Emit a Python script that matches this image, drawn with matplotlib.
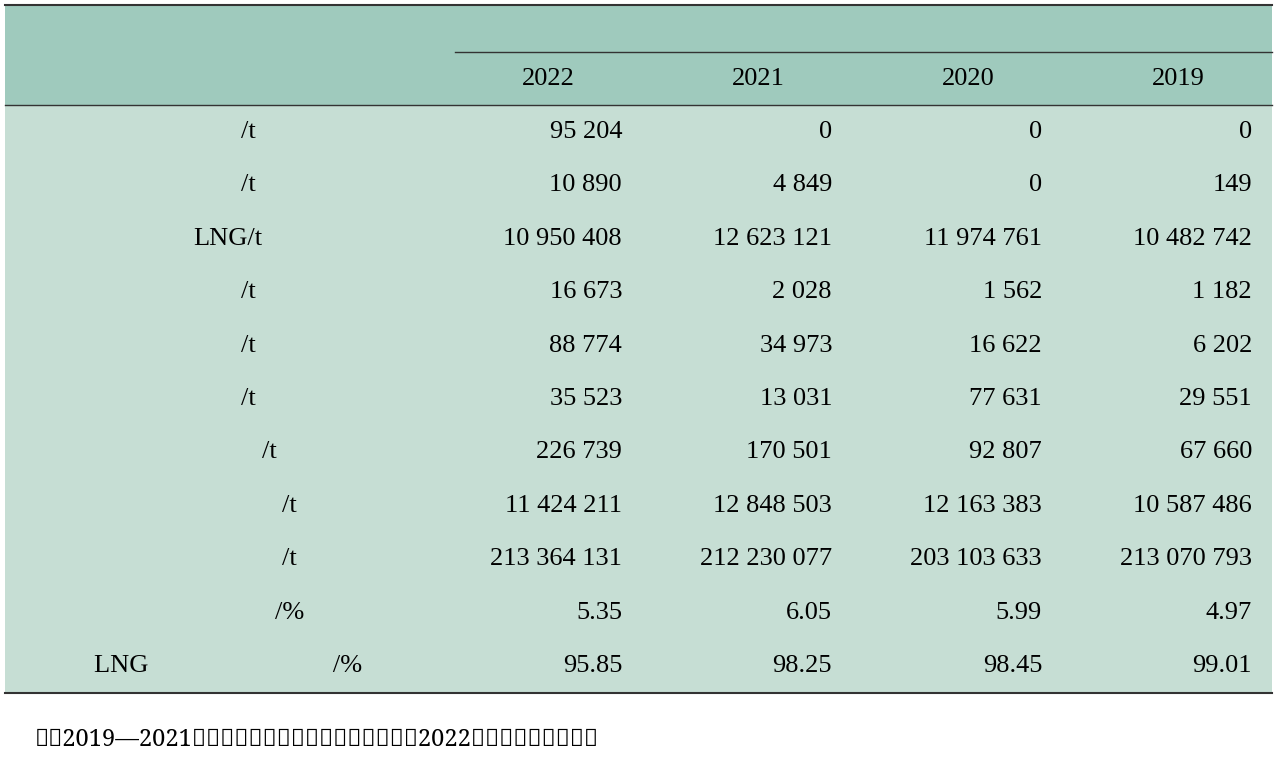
import matplotlib.pyplot as plt
from matplotlib import font_manager
from matplotlib.patches import Rectangle

# find an installed CJK family name
cjk = None
for f in font_manager.fontManager.ttflist:
    if 'CJK' in f.name and 'SC' in f.name:
        cjk = f.name
        break
if cjk is None:
    for f in font_manager.fontManager.ttflist:
        if 'CJK' in f.name or 'Noto Serif' in f.name:
            cjk = f.name
            break
if cjk is None:
    cjk = 'DejaVu Sans'
plt.rcParams['font.family'] = ['Liberation Serif', cjk]

years = ["2022", "2021", "2020", "2019"]
items = ["乙烷/t", "乙醇/t", "LNG/t", "丁烷/t", "丙烷/t", "甲醇/t", "其他燃料/t",
         "替代燃料总计/t", "所有燃料总计/t", "替代燃料占比/%", "LNG在替代燃料中的占比/%"]
v2022 = ["95 204", "10 890", "10 950 408", "16 673", "88 774", "35 523", "226 739",
         "11 424 211", "213 364 131", "5.35", "95.85"]
v2021 = ["0", "4 849", "12 623 121", "2 028", "34 973", "13 031", "170 501",
         "12 848 503", "212 230 077", "6.05", "98.25"]
v2020 = ["0", "0", "11 974 761", "1 562", "16 622", "77 631", "92 807",
         "12 163 383", "203 103 633", "5.99", "98.45"]
v2019 = ["0", "149", "10 482 742", "1 182", "6 202", "29 551", "67 660",
         "10 587 486", "213 070 793", "4.97", "99.01"]
note = "注：2019—2021三个年度，乙烷归在其他燃料项下，2022年度乙烷单独统计。"

columns = [v2022, v2021, v2020, v2019]

fig = plt.figure(figsize=(12.8, 7.6), dpi=100)
ax = fig.add_axes([0, 0, 1, 1])
ax.set_xlim(0, 1280)
ax.set_ylim(760, 0)
ax.axis('off')

left, right = 5, 1272
top, head_bot, bot = 5, 105, 693
ax.add_patch(Rectangle((left, top), right - left, head_bot - top, color='#9fcabd', lw=0))
ax.add_patch(Rectangle((left, head_bot), right - left, bot - head_bot, color='#c6ded4', lw=0))
ax.plot([left, right], [top, top], color='#333333', lw=1.5)
ax.plot([455, right], [52, 52], color='#333333', lw=1)
ax.plot([left, right], [head_bot, head_bot], color='#333333', lw=1)
ax.plot([left, right], [bot, bot], color='#333333', lw=1.5)

fs = 19
ax.text(228, 46, "项目", ha='center', va='center', fontsize=fs)
ax.text(850, 29, "年份", ha='center', va='center', fontsize=fs)
col_right = [622, 832, 1042, 1252]
for i, y in enumerate(years):
    ax.text(col_right[i] - 74, 79, y, ha='center', va='center', fontsize=fs)

row_h = (bot - head_bot) / len(items)
for r, name in enumerate(items):
    yc = head_bot + row_h * (r + 0.5)
    ax.text(228, yc, name, ha='center', va='center', fontsize=fs)
    for c, col in enumerate(columns):
        ax.text(col_right[c], yc, col[r], ha='right', va='center', fontsize=fs)

ax.text(35, 740, note, ha='left', va='center', fontsize=17, family=cjk)

fig.savefig('out.png', dpi=100)
